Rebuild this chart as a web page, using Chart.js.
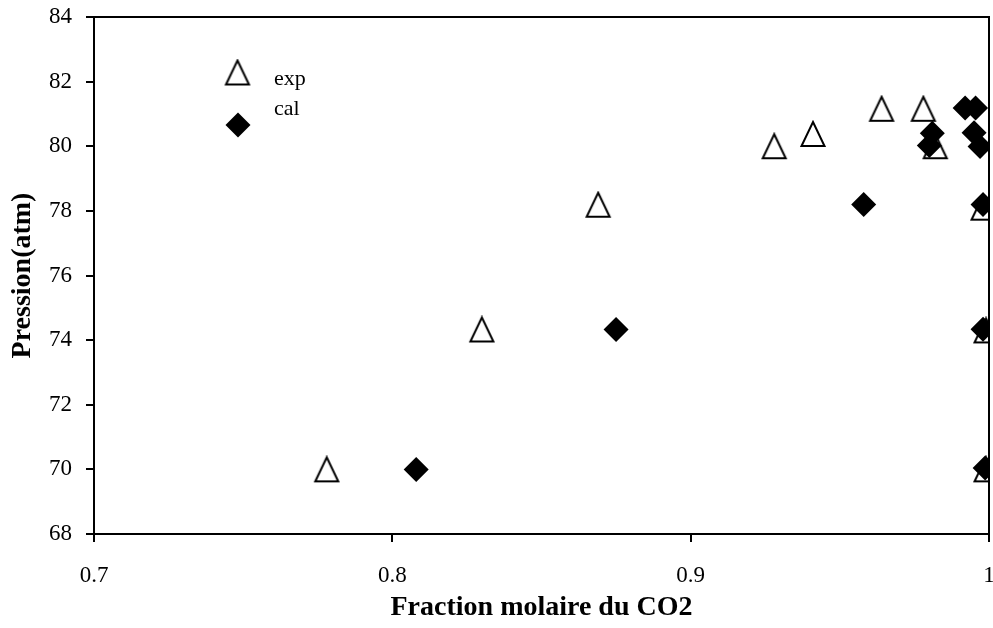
<!DOCTYPE html>
<html>
<head>
<meta charset="utf-8">
<script src="https://cdn.jsdelivr.net/npm/chart.js@4"></script>
<style>
  html, body { margin: 0; padding: 0; background: #fff; overflow: hidden; }
  #wrap { width: 993px; height: 628px; }
  canvas { display: block; }
</style>
</head>
<body>
<div id="wrap"><canvas id="chart" width="993" height="628"></canvas></div>
<script>
// data
const expX = [0.778, 0.830, 0.869, 0.928, 0.941, 0.964, 0.978, 0.982, 0.998, 0.999, 0.999];
const expY = [70.0, 74.33, 78.19, 80.0, 80.38, 81.16, 81.16, 80.0, 78.1, 74.3, 70.0];

const calX = [0.808, 0.875, 0.958, 0.980, 0.981, 0.992, 0.9955, 0.995, 0.997, 0.998, 0.998, 0.9987];
const calY = [70.0, 74.33, 78.2, 80.02, 80.4, 81.18, 81.18, 80.42, 79.99, 78.2, 74.34, 70.04];

const xTickValues = [0.7, 0.8, 0.9, 1.0];
const xTickLabels = ['0.7', '0.8', '0.9', '1'];
const yTickValues = [68, 70, 72, 74, 76, 78, 80, 82, 84];
const yTickLabels = ['68', '70', '72', '74', '76', '78', '80', '82', '84'];

const seriesNames = ['exp', 'cal'];

const SERIF = '"Liberation Serif", "Times New Roman", serif';

// hollow triangle marker, Excel style (centred on its box)
function makeTriangle() {
  const c = document.createElement('canvas');
  c.width = 28; c.height = 28;
  const g = c.getContext('2d');
  g.strokeStyle = '#000';
  g.lineWidth = 2;
  g.lineJoin = 'miter';
  g.beginPath();
  g.moveTo(14, 2);
  g.lineTo(25.5, 26);
  g.lineTo(2.5, 26);
  g.closePath();
  g.stroke();
  return c;
}
const triangle = makeTriangle();

function toPoints(xs, ys) {
  return xs.map((x, i) => ({ x: x, y: ys[i] }));
}

// top and right edges of the plot box
const frame = {
  id: 'frame',
  afterDraw(chart) {
    const { ctx, chartArea: a } = chart;
    ctx.save();
    ctx.strokeStyle = '#000';
    ctx.lineWidth = 2;
    ctx.beginPath();
    ctx.moveTo(a.left, a.top);
    ctx.lineTo(a.right, a.top);
    ctx.lineTo(a.right, a.bottom);
    ctx.stroke();
    ctx.restore();
  }
};

// legend drawn where Excel put it
const looseLegend = {
  id: 'looseLegend',
  afterDraw(chart) {
    const ctx = chart.ctx;
    ctx.save();
    ctx.drawImage(triangle, 237.5 - 14, 72.5 - 14);
    ctx.fillStyle = '#000';
    ctx.beginPath();
    ctx.moveTo(238, 125 - 12.5);
    ctx.lineTo(250.5, 125);
    ctx.lineTo(238, 125 + 12.5);
    ctx.lineTo(225.5, 125);
    ctx.closePath();
    ctx.fill();
    ctx.font = '22px ' + SERIF;
    ctx.textBaseline = 'alphabetic';
    ctx.fillText(seriesNames[0], 274, 85);
    ctx.fillText(seriesNames[1], 274, 115);
    ctx.restore();
  }
};

new Chart(document.getElementById('chart'), {
  type: 'scatter',
  data: {
    datasets: [
      {
        label: seriesNames[0],
        data: toPoints(expX, expY),
        pointStyle: triangle,
        pointRadius: 13,
        order: 1
      },
      {
        label: seriesNames[1],
        data: toPoints(calX, calY),
        pointStyle: 'rectRot',
        pointRadius: 12.5,
        backgroundColor: '#000',
        borderColor: '#000',
        borderWidth: 0,
        order: 0
      }
    ]
  },
  options: {
    responsive: false,
    animation: false,
    events: [],
    layout: { autoPadding: false, padding: { top: 17, right: 4, bottom: 0, left: 0 } },
    plugins: {
      legend: { display: false },
      tooltip: { enabled: false }
    },
    scales: {
      x: {
        type: 'linear',
        min: 0.7,
        max: 1.0,
        afterFit: s => { s.height = 94; s.paddingLeft = 0; s.paddingRight = 0; },
        afterBuildTicks: s => { s.ticks = xTickValues.map(v => ({ value: v })); },
        border: { color: '#000', width: 2 },
        grid: { drawOnChartArea: false, color: '#000', lineWidth: 2, tickLength: 8 },
        ticks: {
          color: '#000',
          font: { family: SERIF, size: 23 },
          padding: 20,
          maxRotation: 0,
          callback: (v, i) => xTickLabels[i]
        },
        title: {
          display: true,
          text: 'Fraction molaire du CO2',
          color: '#000',
          font: { family: SERIF, size: 28, weight: 'bold' },
          padding: { top: 0, bottom: 3 }
        }
      },
      y: {
        type: 'linear',
        min: 68,
        max: 84,
        afterFit: s => { s.width = 94; s.paddingTop = 0; s.paddingBottom = 0; },
        afterBuildTicks: s => { s.ticks = yTickValues.map(v => ({ value: v })); },
        border: { color: '#000', width: 2 },
        grid: { drawOnChartArea: false, color: '#000', lineWidth: 2, tickLength: 8 },
        ticks: {
          color: '#000',
          font: { family: SERIF, size: 23 },
          padding: 14,
          callback: (v, i) => yTickLabels[i]
        },
        title: {
          display: true,
          text: 'Pression(atm)',
          color: '#000',
          font: { family: SERIF, size: 28, weight: 'bold' },
          padding: { top: 6, bottom: 0 }
        }
      }
    }
  },
  plugins: [frame, looseLegend]
});
</script>
</body>
</html>
